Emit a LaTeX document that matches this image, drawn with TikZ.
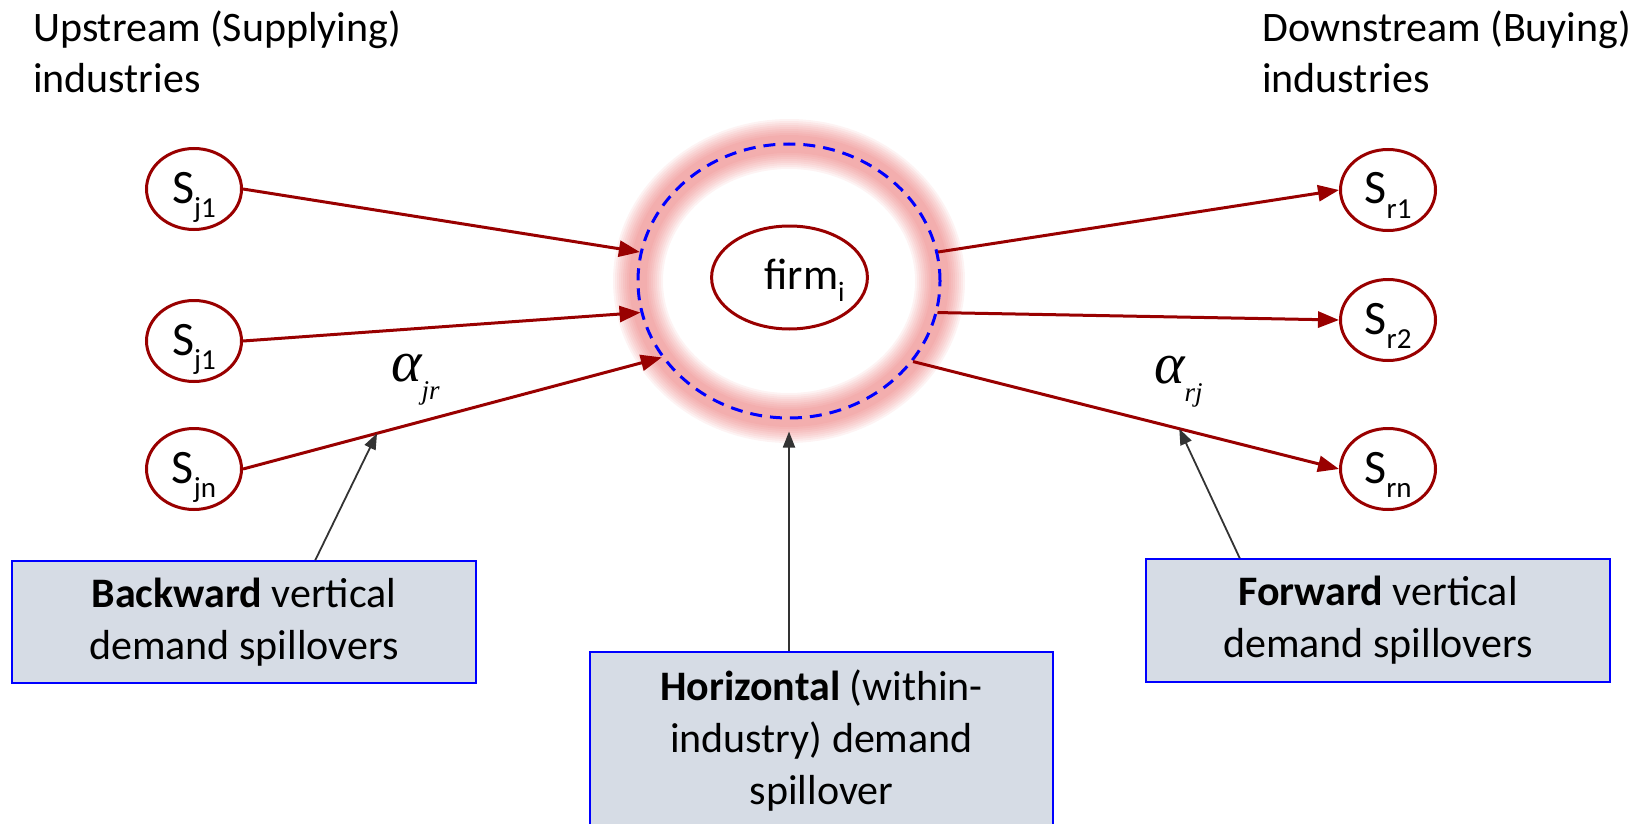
\documentclass[tikz,border=0pt]{standalone}
\usepackage{fontspec}
\setmainfont{Carlito}
\newfontfamily\tms{Liberation Serif}
\usetikzlibrary{arrows.meta,shapes.geometric,calc}
\definecolor{dred}{RGB}{153,0,0}
\definecolor{boxfill}{RGB}{214,220,229}
\definecolor{garrow}{RGB}{51,51,51}
\definecolor{glowred}{RGB}{230,80,80}
\newcommand\lowsub[1]{\raisebox{-14pt}{\fontsize{29}{29}\selectfont #1}}
\begin{document}
\begin{tikzpicture}[x=1pt,y=-1pt,
  snode/.style={ellipse, draw=dred, line width=3pt, minimum width=95pt, minimum height=81pt,
    inner sep=0pt, font=\fontsize{48}{48}\selectfont, text height=42pt, text depth=14pt},
  flow/.style={draw=dred, line width=3pt, -{Triangle[length=21pt,width=16pt]}},
  pointer/.style={draw=garrow, line width=1.8pt, -{Triangle[length=16pt,width=12pt]}},
  spill/.style={rectangle, draw=blue, line width=1.5pt, fill=boxfill, minimum width=464pt,
    align=center, font=\fontsize{42}{52}\selectfont, inner sep=0pt},
  header/.style={anchor=north west, align=left, inner sep=0pt, font=\fontsize{42}{51}\selectfont},
  alph/.style={anchor=base west, inner sep=0pt, font=\tms\itshape\fontsize{58}{58}\selectfont},
  glow/.style={ellipse, draw=glowred, minimum width=302pt, minimum height=274pt, inner sep=0pt}
]
\useasboundingbox (0,0) rectangle (1644,824);
\clip (0,0) rectangle (1644,824);

% headers
\node[header] (up) at (33,11) {Upstream (Supplying)\\industries};
\node[header] (down) at (1262,11) {Downstream (Buying)\\industries};

% central glowing ring
\foreach \w in {50,46,42,38,34,30,26,22,18}
  \node[glow, line width=\w pt, draw opacity=0.065] at (789,281) {};
\node[ellipse, draw=blue, line width=3pt, dash pattern=on 12pt off 8pt,
  minimum width=302pt, minimum height=274pt, inner sep=0pt] (big) at (789,281) {};
\node[ellipse, draw=dred, line width=3pt, minimum width=147pt, minimum height=103pt,
  inner sep=0pt, font=\fontsize{44}{44}\selectfont, text height=38pt, text depth=14pt]
  (firm) at (789.5,277.5) {\hspace*{30pt}firm\raisebox{-12pt}{\fontsize{28}{28}\selectfont i}};

% sector nodes
\node[snode] (sj1) at (194,189) {S\lowsub{j1}};
\node[snode] (sj2) at (194,341) {S\lowsub{j1}};
\node[snode] (sjn) at (194,469) {S\lowsub{jn}};
\node[snode] (sr1) at (1388,190) {S\lowsub{r1}};
\node[snode] (sr2) at (1388,320) {S\lowsub{r2}};
\node[snode] (srn) at (1388,469) {S\lowsub{rn}};

% flows
\draw[flow] (sj1.east) -- (big.169);
\draw[flow] (sj2.east) -- (big.192);
\draw[flow] (sjn.east) -- coordinate[pos=0.32] (bk) (big.211);
\draw[flow] (big.11) -- (sr1.west);
\draw[flow] (big.348) -- (sr2.west);
\draw[flow] (big.327) -- coordinate[pos=0.625] (fw) (srn.west);

% coefficients
\node[alph] (ajr) at (391,381) {α\raisebox{-18pt}{\fontsize{27}{27}\selectfont jr}};
\node[alph] (arj) at (1154,383) {α\raisebox{-18pt}{\fontsize{27}{27}\selectfont rj}};

% spillover boxes
\node[spill, minimum height=122pt] (back) at (244,622) {\textbf{Backward} vertical\\demand spillovers};
\node[spill, minimum height=123pt] (fwd) at (1378,620.5) {\textbf{Forward} vertical\\demand spillovers};
\node[spill, minimum width=463pt, minimum height=178pt] (hor) at (821.5,741)
  {\textbf{Horizontal} (within-\\industry) demand\\spillover};

% pointers
\coordinate (bt) at ($(back.north west)!0.653!(back.north east)$);
\coordinate (ft) at ($(fwd.north west)!0.203!(fwd.north east)$);
\draw[pointer] (bt) -- (bk);
\draw[pointer] (ft) -- (fw);
\draw[pointer, shorten >=12pt] (hor.north -| big.south) -- (big.south);
\end{tikzpicture}
\end{document}
